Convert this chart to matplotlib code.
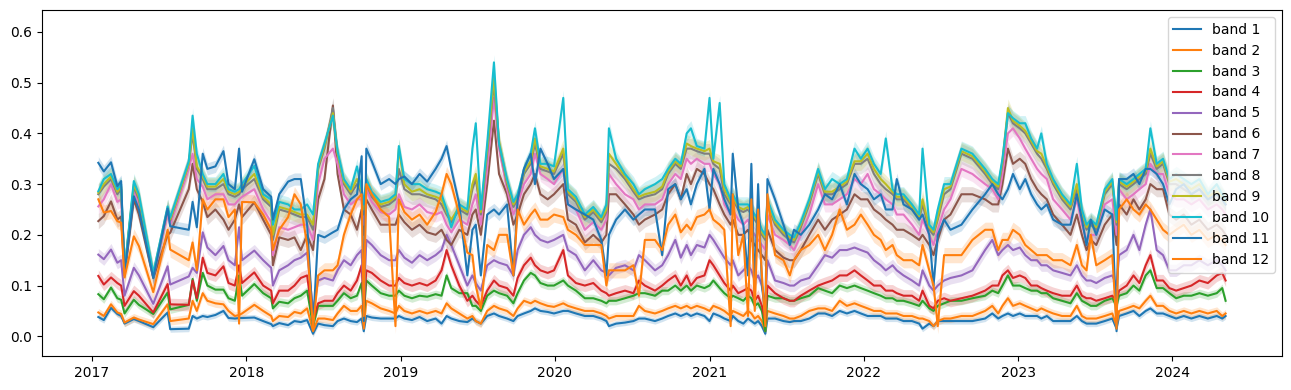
import numpy as np
import pandas as pd
import matplotlib
matplotlib.use("Agg")
import matplotlib.pyplot as plt

# acquisition dates (one line per year)
dates = pd.to_datetime([
    "2017-01-16", "2017-01-29", "2017-02-15", "2017-03-02", "2017-03-11", "2017-03-19", "2017-04-10", "2017-04-22",
    "2017-05-26", "2017-06-29", "2017-07-05", "2017-08-18", "2017-08-27", "2017-09-06", "2017-09-20", "2017-10-01",
    "2017-10-20", "2017-11-08", "2017-11-20", "2017-12-05", "2017-12-15", "2017-12-22",
    "2018-01-20", "2018-02-10", "2018-03-01", "2018-03-05", "2018-03-20", "2018-04-10", "2018-04-25", "2018-05-10",
    "2018-05-25", "2018-06-08", "2018-06-20", "2018-07-05", "2018-07-25", "2018-08-05", "2018-08-20", "2018-09-05",
    "2018-09-20", "2018-10-01", "2018-10-06", "2018-10-12", "2018-10-25", "2018-11-15", "2018-12-05", "2018-12-20",
    "2018-12-28",
    "2019-01-10", "2019-01-28", "2019-02-15", "2019-03-05", "2019-03-25", "2019-04-08", "2019-04-20", "2019-05-01",
    "2019-05-20", "2019-06-08", "2019-06-20", "2019-06-28", "2019-07-10", "2019-07-25", "2019-08-10", "2019-08-22",
    "2019-09-10", "2019-09-25", "2019-10-05", "2019-10-20", "2019-11-05", "2019-11-15", "2019-11-28", "2019-12-15",
    "2019-12-30",
    "2020-01-21", "2020-02-01", "2020-02-20", "2020-03-12", "2020-04-01", "2020-04-20", "2020-05-02", "2020-05-08",
    "2020-05-25", "2020-06-15", "2020-07-05", "2020-07-18", "2020-08-01", "2020-08-25", "2020-09-11", "2020-09-25",
    "2020-10-12", "2020-10-25", "2020-11-08", "2020-11-18", "2020-12-02", "2020-12-20",
    "2021-01-01", "2021-01-10", "2021-01-25", "2021-02-05", "2021-02-20", "2021-02-25", "2021-03-10", "2021-03-22",
    "2021-04-02", "2021-04-10", "2021-04-18", "2021-04-26", "2021-05-05", "2021-05-13", "2021-05-18", "2021-06-05",
    "2021-06-25", "2021-07-10", "2021-07-20", "2021-08-05", "2021-08-25", "2021-09-15", "2021-10-01", "2021-10-18",
    "2021-11-05", "2021-11-22", "2021-12-10", "2021-12-25",
    "2022-01-10", "2022-01-25", "2022-02-10", "2022-02-22", "2022-03-10", "2022-03-20", "2022-04-05", "2022-04-25",
    "2022-05-12", "2022-05-20", "2022-06-05", "2022-06-15", "2022-06-25", "2022-07-10", "2022-07-25", "2022-08-20",
    "2022-09-15", "2022-10-15", "2022-11-01", "2022-11-15", "2022-11-25", "2022-12-08", "2022-12-20",
    "2023-01-05", "2023-01-18", "2023-02-01", "2023-02-15", "2023-02-25", "2023-03-10", "2023-03-25", "2023-04-15",
    "2023-05-05", "2023-05-20", "2023-06-01", "2023-06-12", "2023-06-22", "2023-07-05", "2023-07-25", "2023-08-12",
    "2023-08-22", "2023-08-28", "2023-09-15", "2023-10-01", "2023-10-15", "2023-10-30", "2023-11-10", "2023-11-25",
    "2023-12-10", "2023-12-25",
    "2024-01-10", "2024-01-28", "2024-02-15", "2024-03-05", "2024-03-25", "2024-04-15", "2024-04-28", "2024-05-06",
])

# mean reflectance per band (one line per year)
band_1 = [
    .038, .032, .056, .044, .040, .025, .034, .030, .018, .047, .014, .015, .040, .035, .040, .038, .042, .050, .036, .035, .036, .036,
    .037, .030, .024, .020, .026, .022, .030, .028, .032, .005, .025, .022, .020, .030, .035, .030, .028, .035, .010, .040, .037, .035, .035, .035, .040,
    .035, .032, .038, .030, .035, .025, .040, .035, .030, .028, .035, .030, .025, .040, .045, .040, .035, .030, .040, .045, .050, .055, .050, .048, .045,
    .050, .050, .045, .040, .040, .035, .030, .020, .025, .027, .030, .035, .035, .030, .035, .040, .045, .040, .045, .040, .045, .040,
    .030, .045, .040, .035, .030, .040, .030, .025, .035, .030, .025, .030, .020, .005, .035, .035, .030, .028, .030, .030, .035, .045, .045, .040, .050, .045, .050, .045,
    .040, .040, .040, .035, .035, .035, .030, .030, .025, .015, .025, .020, .030, .030, .030, .030, .030, .035, .045, .035, .040, .045, .040,
    .045, .040, .040, .040, .035, .040, .030, .030, .030, .040, .030, .025, .025, .025, .030, .035, .015, .040, .045, .050, .040, .050, .055, .045, .045, .040,
    .035, .040, .035, .040, .035, .040, .035, .040,
]
band_2 = [
    .047, .040, .063, .047, .044, .027, .037, .033, .024, .063, .030, .035, .070, .050, .085, .070, .065, .063, .050, .040, .042, .045,
    .062, .050, .040, .030, .040, .038, .048, .045, .055, .010, .035, .035, .032, .045, .060, .050, .050, .060, .015, .070, .065, .055, .050, .045, .060,
    .050, .045, .050, .045, .050, .045, .065, .055, .045, .035, .040, .030, .025, .050, .060, .055, .050, .040, .055, .070, .065, .070, .065, .060, .058,
    .065, .060, .055, .050, .050, .045, .040, .035, .040, .040, .040, .060, .050, .045, .050, .055, .060, .055, .060, .055, .060, .055,
    .050, .060, .055, .050, .040, .050, .045, .040, .050, .045, .035, .040, .030, .010, .050, .045, .040, .035, .035, .040, .050, .055, .055, .050, .070, .060, .065, .060,
    .055, .050, .050, .045, .045, .045, .040, .040, .035, .035, .030, .020, .030, .035, .035, .040, .040, .050, .060, .045, .060, .075, .060,
    .065, .060, .055, .050, .055, .050, .045, .040, .040, .060, .040, .035, .035, .035, .040, .045, .020, .050, .055, .060, .055, .070, .080, .060, .060, .050,
    .045, .050, .045, .050, .045, .050, .040, .045,
]
band_3 = [
    .083, .073, .096, .075, .072, .045, .072, .062, .044, .086, .053, .062, .113, .070, .125, .100, .092, .092, .075, .070, .120, .080,
    .103, .085, .075, .055, .068, .065, .075, .080, .090, .020, .060, .060, .060, .070, .085, .075, .080, .105, .040, .110, .100, .085, .080, .080, .090,
    .080, .075, .080, .078, .083, .080, .120, .095, .085, .085, .060, .060, .050, .080, .090, .085, .080, .065, .085, .110, .125, .120, .105, .100, .100,
    .110, .100, .090, .075, .075, .070, .065, .070, .070, .075, .080, .085, .085, .080, .090, .090, .100, .090, .100, .090, .100, .095,
    .100, .110, .095, .085, .075, .080, .075, .070, .080, .075, .060, .065, .050, .010, .080, .075, .075, .070, .070, .075, .080, .095, .090, .085, .100, .095, .100, .095,
    .090, .085, .080, .075, .075, .070, .070, .065, .060, .070, .055, .050, .060, .065, .070, .070, .075, .080, .090, .085, .100, .120, .100,
    .100, .095, .090, .090, .085, .085, .075, .070, .065, .085, .070, .065, .060, .060, .070, .075, .060, .080, .085, .100, .090, .120, .130, .095, .095, .085,
    .075, .080, .080, .085, .080, .085, .095, .070,
]
band_4 = [
    .119, .102, .116, .105, .100, .060, .089, .080, .047, .103, .063, .062, .110, .075, .155, .125, .120, .138, .105, .100, .140, .105,
    .126, .100, .090, .065, .090, .090, .100, .115, .120, .030, .065, .070, .070, .085, .100, .090, .110, .140, .050, .130, .125, .110, .100, .100, .115,
    .105, .100, .105, .100, .110, .130, .170, .140, .100, .070, .080, .070, .060, .090, .110, .100, .095, .080, .115, .140, .155, .140, .130, .125, .130,
    .170, .120, .105, .100, .105, .090, .085, .080, .085, .090, .085, .110, .100, .090, .100, .110, .120, .100, .120, .100, .115, .120,
    .150, .140, .120, .105, .090, .100, .085, .090, .095, .090, .070, .080, .060, .030, .100, .085, .075, .070, .070, .080, .090, .100, .105, .110, .120, .120, .130, .120,
    .110, .100, .100, .090, .090, .085, .080, .080, .070, .090, .060, .055, .070, .075, .070, .075, .080, .090, .100, .100, .120, .130, .115,
    .120, .115, .100, .100, .095, .090, .085, .080, .080, .100, .080, .075, .075, .070, .075, .080, .070, .090, .100, .120, .105, .140, .160, .110, .110, .095,
    .090, .095, .100, .110, .105, .120, .125, .110,
]
band_5 = [
    .161, .152, .171, .145, .150, .080, .135, .120, .064, .138, .102, .118, .135, .125, .205, .175, .160, .178, .150, .140, .215, .150,
    .169, .150, .135, .100, .130, .140, .150, .155, .165, .050, .110, .115, .110, .130, .150, .140, .160, .170, .060, .190, .180, .160, .150, .150, .170,
    .155, .145, .160, .150, .160, .170, .200, .180, .140, .100, .120, .105, .090, .140, .150, .145, .140, .120, .170, .200, .215, .200, .190, .185, .190,
    .200, .170, .160, .130, .150, .130, .125, .120, .135, .140, .130, .160, .150, .130, .140, .160, .190, .155, .180, .160, .180, .175,
    .200, .190, .170, .155, .140, .150, .120, .130, .140, .130, .110, .120, .100, .060, .150, .110, .105, .100, .100, .110, .115, .140, .160, .155, .170, .170, .175, .170,
    .165, .150, .140, .130, .140, .130, .120, .110, .100, .130, .100, .090, .100, .110, .115, .120, .130, .170, .190, .160, .170, .180, .170,
    .175, .160, .150, .150, .140, .140, .130, .125, .120, .140, .120, .110, .110, .105, .115, .120, .100, .160, .170, .200, .170, .220, .250, .170, .160, .130,
    .130, .140, .140, .150, .140, .150, .140, .130,
]
band_6 = [
    .227, .237, .266, .230, .236, .120, .270, .240, .115, .200, .204, .290, .340, .290, .265, .235, .250, .230, .210, .230, .260, .235,
    .264, .230, .200, .140, .195, .190, .195, .170, .200, .170, .270, .310, .455, .320, .250, .240, .210, .250, .200, .270, .250, .220, .220, .220, .240,
    .225, .210, .220, .205, .200, .210, .190, .180, .210, .200, .240, .250, .200, .300, .425, .320, .280, .220, .240, .280, .300, .320, .280, .270, .280,
    .300, .230, .220, .185, .200, .185, .200, .280, .280, .260, .240, .220, .230, .240, .250, .280, .300, .270, .320, .300, .330, .320,
    .300, .290, .260, .240, .220, .230, .200, .200, .210, .190, .180, .170, .160, .150, .210, .170, .155, .150, .150, .170, .200, .230, .210, .230, .240, .250, .280, .270,
    .270, .250, .240, .230, .220, .210, .210, .200, .190, .200, .180, .160, .190, .230, .240, .280, .280, .270, .260, .260, .300, .370, .340,
    .350, .340, .310, .290, .280, .270, .240, .220, .200, .240, .200, .170, .190, .180, .220, .240, .180, .260, .240, .270, .250, .270, .300, .290, .290, .240,
    .230, .240, .220, .230, .210, .220, .210, .200,
]
band_7 = [
    .256, .270, .300, .265, .270, .130, .290, .260, .118, .240, .220, .330, .360, .310, .295, .270, .280, .280, .260, .260, .270, .275,
    .290, .250, .225, .160, .215, .210, .215, .220, .220, .190, .300, .350, .370, .340, .280, .260, .270, .270, .220, .290, .265, .245, .240, .250, .280,
    .255, .250, .260, .245, .240, .245, .220, .205, .230, .220, .260, .280, .220, .330, .470, .370, .290, .240, .260, .300, .320, .360, .320, .310, .300,
    .330, .260, .250, .210, .225, .210, .230, .320, .300, .280, .270, .250, .260, .260, .270, .300, .320, .310, .350, .340, .350, .340,
    .340, .320, .300, .260, .240, .250, .230, .220, .230, .210, .200, .190, .180, .170, .240, .200, .190, .180, .170, .200, .240, .300, .260, .260, .270, .280, .310, .300,
    .320, .290, .280, .270, .260, .240, .240, .220, .200, .230, .200, .180, .210, .250, .270, .330, .320, .300, .290, .270, .320, .400, .410,
    .390, .370, .350, .330, .320, .310, .270, .250, .230, .270, .220, .190, .200, .200, .260, .270, .200, .290, .270, .280, .290, .300, .340, .320, .320, .280,
    .270, .270, .260, .270, .250, .260, .250, .240,
]
band_8 = [
    .280, .295, .310, .280, .290, .130, .295, .270, .120, .250, .228, .340, .400, .330, .310, .290, .290, .300, .280, .275, .280, .290,
    .310, .270, .255, .190, .250, .245, .240, .235, .235, .210, .330, .370, .450, .360, .300, .280, .300, .280, .240, .300, .275, .255, .260, .270, .330,
    .290, .280, .280, .275, .270, .260, .240, .225, .250, .240, .290, .310, .240, .360, .500, .380, .300, .255, .270, .320, .340, .380, .330, .325, .320,
    .360, .280, .265, .230, .245, .225, .245, .340, .330, .310, .285, .270, .275, .280, .290, .320, .340, .330, .370, .370, .365, .360,
    .360, .340, .330, .280, .260, .270, .250, .245, .250, .240, .230, .220, .200, .190, .260, .220, .200, .190, .185, .215, .260, .320, .280, .280, .290, .300, .340, .340,
    .350, .320, .300, .290, .280, .270, .270, .250, .230, .260, .210, .200, .230, .280, .290, .360, .350, .320, .300, .290, .340, .440, .420,
    .410, .400, .380, .360, .350, .330, .300, .270, .250, .290, .240, .210, .220, .210, .280, .300, .220, .300, .290, .300, .310, .320, .360, .330, .340, .300,
    .300, .290, .280, .290, .270, .280, .270, .260,
]
band_9 = [
    .283, .300, .315, .285, .295, .130, .300, .275, .122, .252, .230, .340, .410, .335, .315, .295, .295, .310, .285, .280, .285, .295,
    .320, .275, .260, .200, .255, .250, .245, .240, .240, .220, .335, .375, .440, .360, .305, .285, .310, .285, .250, .305, .280, .260, .265, .275, .370,
    .300, .285, .290, .280, .275, .270, .245, .230, .255, .245, .300, .320, .245, .370, .510, .385, .305, .260, .275, .325, .345, .390, .335, .330, .325,
    .370, .285, .270, .235, .250, .230, .250, .360, .340, .315, .290, .275, .280, .285, .295, .325, .345, .335, .380, .375, .370, .365,
    .370, .345, .340, .290, .265, .275, .255, .250, .255, .245, .235, .225, .205, .195, .265, .225, .205, .195, .190, .220, .265, .325, .285, .285, .295, .305, .345, .345,
    .360, .330, .310, .300, .285, .275, .275, .255, .235, .270, .215, .205, .235, .290, .295, .365, .355, .325, .305, .295, .345, .450, .425,
    .415, .405, .385, .365, .360, .335, .305, .275, .255, .300, .245, .215, .225, .215, .285, .305, .225, .305, .295, .305, .315, .325, .370, .335, .345, .305,
    .310, .300, .290, .300, .275, .285, .275, .265,
]
band_10 = [
    .286, .310, .320, .290, .300, .130, .306, .280, .125, .256, .234, .345, .435, .360, .320, .300, .300, .320, .290, .285, .290, .300,
    .336, .280, .270, .220, .265, .260, .250, .250, .260, .240, .340, .380, .435, .365, .310, .290, .335, .290, .260, .310, .285, .265, .270, .280, .375,
    .310, .300, .300, .290, .285, .280, .250, .215, .260, .250, .370, .420, .250, .380, .540, .380, .310, .265, .280, .330, .360, .410, .340, .340, .335,
    .470, .290, .275, .240, .255, .235, .260, .410, .350, .320, .300, .280, .290, .300, .310, .330, .350, .340, .400, .410, .375, .370,
    .470, .350, .460, .300, .270, .280, .260, .260, .260, .250, .240, .230, .210, .200, .270, .230, .210, .200, .195, .225, .270, .330, .290, .310, .300, .310, .370, .350,
    .370, .340, .320, .390, .290, .280, .280, .260, .240, .370, .220, .210, .250, .300, .300, .370, .360, .330, .310, .300, .350, .440, .430,
    .420, .420, .390, .370, .400, .340, .310, .280, .260, .340, .250, .220, .230, .220, .290, .310, .230, .310, .300, .310, .320, .330, .410, .340, .350, .310,
    .320, .310, .300, .310, .280, .300, .280, .270,
]
band_11 = [
    .342, .325, .343, .296, .306, .125, .276, .250, .115, .252, .217, .210, .265, .215, .360, .330, .335, .365, .300, .290, .370, .285,
    .349, .290, .275, .230, .280, .305, .310, .310, .220, .020, .200, .195, .205, .210, .250, .270, .280, .355, .030, .370, .345, .300, .310, .300, .310,
    .315, .300, .320, .305, .330, .350, .375, .330, .260, .120, .210, .220, .120, .240, .250, .240, .260, .120, .270, .330, .360, .300, .370, .340, .310,
    .330, .260, .250, .240, .230, .190, .120, .200, .230, .250, .230, .240, .250, .250, .160, .290, .300, .270, .290, .260, .300, .330,
    .250, .330, .300, .270, .240, .360, .250, .220, .120, .340, .090, .300, .100, .040, .310, .270, .220, .180, .210, .200, .220, .250, .280, .270, .300, .260, .320, .300,
    .290, .270, .280, .250, .250, .310, .260, .250, .230, .240, .200, .100, .200, .230, .210, .220, .250, .280, .300, .280, .270, .290, .320,
    .290, .310, .280, .260, .250, .260, .230, .220, .220, .280, .230, .180, .230, .200, .250, .240, .010, .310, .310, .320, .300, .330, .330, .320, .300, .260,
    .290, .300, .280, .290, .270, .280, .270, .260,
]
band_12 = [
    .270, .244, .247, .227, .224, .116, .197, .178, .087, .210, .171, .150, .185, .130, .270, .250, .270, .270, .235, .250, .025, .265,
    .264, .240, .210, .170, .210, .235, .280, .260, .180, .015, .120, .130, .130, .140, .200, .240, .270, .280, .040, .300, .280, .250, .235, .020, .270,
    .245, .230, .240, .220, .245, .280, .320, .300, .240, .165, .160, .100, .055, .180, .170, .200, .200, .120, .250, .220, .240, .250, .230, .230, .240,
    .235, .210, .200, .180, .180, .180, .100, .130, .130, .130, .140, .080, .190, .190, .170, .220, .240, .205, .220, .210, .235, .240,
    .250, .230, .220, .210, .020, .280, .160, .200, .040, .270, .050, .250, .120, .020, .280, .160, .150, .120, .150, .170, .180, .200, .170, .200, .250, .210, .220, .240,
    .220, .200, .190, .170, .180, .160, .150, .150, .140, .180, .130, .100, .020, .160, .160, .160, .190, .210, .210, .170, .190, .190, .210,
    .200, .180, .170, .160, .160, .160, .150, .150, .140, .180, .140, .130, .200, .140, .150, .160, .015, .250, .270, .250, .240, .260, .250, .230, .210, .200,
    .210, .220, .200, .210, .190, .200, .190, .180,
]

bands = [band_1, band_2, band_3, band_4, band_5, band_6,
         band_7, band_8, band_9, band_10, band_11, band_12]
# half width of the shaded confidence band, per band
ci_half = [.006, .008, .008, .012, .012, .015, .015, .02, .018, .015, .012, .015]

fig, ax = plt.subplots(figsize=(12.91, 3.9), dpi=100)

for i, vals in enumerate(bands):
    vals = np.array(vals)
    line, = ax.plot(dates, vals, lw=1.5, label=f"band {i + 1}")
    ax.fill_between(dates, vals - ci_half[i], vals + ci_half[i],
                    color=line.get_color(), alpha=0.2, lw=0)

ax.set_ylim(-0.039, 0.643)
ax.legend(loc="upper right")

fig.subplots_adjust(left=0.0325, right=0.993, bottom=0.087, top=0.974)
fig.savefig("out.png")
